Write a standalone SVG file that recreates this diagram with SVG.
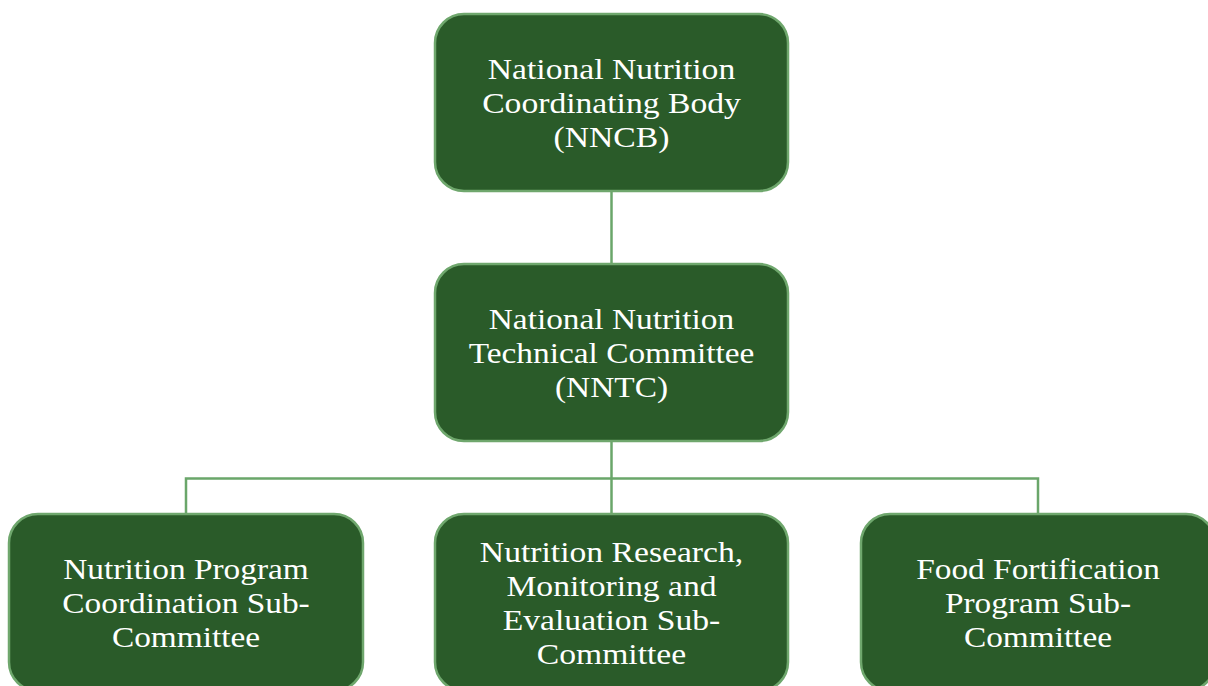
<svg xmlns="http://www.w3.org/2000/svg" width="1208" height="686" viewBox="0 0 1208 686">
<style>
.box{fill:#2a5b29;stroke:#6fa76d;stroke-width:2.5}
.lbl{fill:#ffffff;font-family:"Liberation Serif","DejaVu Serif",serif;font-size:29px;text-anchor:middle}
.con{fill:none;stroke:#6aa66a;stroke-width:2.5}
</style>
<rect width="1208" height="686" fill="#ffffff"/>
<g id="connectors">
<line class="con" x1="611.5" y1="191" x2="611.5" y2="265"/>
<line class="con" x1="611.5" y1="441" x2="611.5" y2="514"/>
<polyline class="con" points="186,514 186,478.5 1038,478.5 1038,514"/>
</g>
<g id="nncb">
<rect class="box" x="435" y="14" width="353" height="177" rx="29"/>
<text class="lbl" transform="translate(611.5 0) scale(1.16 1)"><tspan x="0" y="79">National Nutrition</tspan><tspan x="0" y="113">Coordinating Body</tspan><tspan x="0" y="147">(NNCB)</tspan></text>
</g>
<g id="nntc">
<rect class="box" x="435" y="264" width="353" height="177" rx="29"/>
<text class="lbl" transform="translate(611.5 0) scale(1.15 1)"><tspan x="0" y="329">National Nutrition</tspan><tspan x="0" y="363">Technical Committee</tspan><tspan x="0" y="397">(NNTC)</tspan></text>
</g>
<g id="npc">
<rect class="box" x="9" y="514" width="354" height="177" rx="29"/>
<text class="lbl" transform="translate(186 0) scale(1.15 1)"><tspan x="0" y="579">Nutrition Program</tspan><tspan x="0" y="613">Coordination Sub-</tspan><tspan x="0" y="647">Committee</tspan></text>
</g>
<g id="nrme">
<rect class="box" x="435" y="514" width="353" height="177" rx="29"/>
<text class="lbl" transform="translate(611.5 0) scale(1.16 1)"><tspan x="0" y="562">Nutrition Research,</tspan><tspan x="0" y="596">Monitoring and</tspan><tspan x="0" y="630">Evaluation Sub-</tspan><tspan x="0" y="664">Committee</tspan></text>
</g>
<g id="ffp">
<rect class="box" x="861" y="514" width="354" height="177" rx="29"/>
<text class="lbl" transform="translate(1038 0) scale(1.15 1)"><tspan x="0" y="579">Food Fortification</tspan><tspan x="0" y="613">Program Sub-</tspan><tspan x="0" y="647">Committee</tspan></text>
</g>
</svg>
